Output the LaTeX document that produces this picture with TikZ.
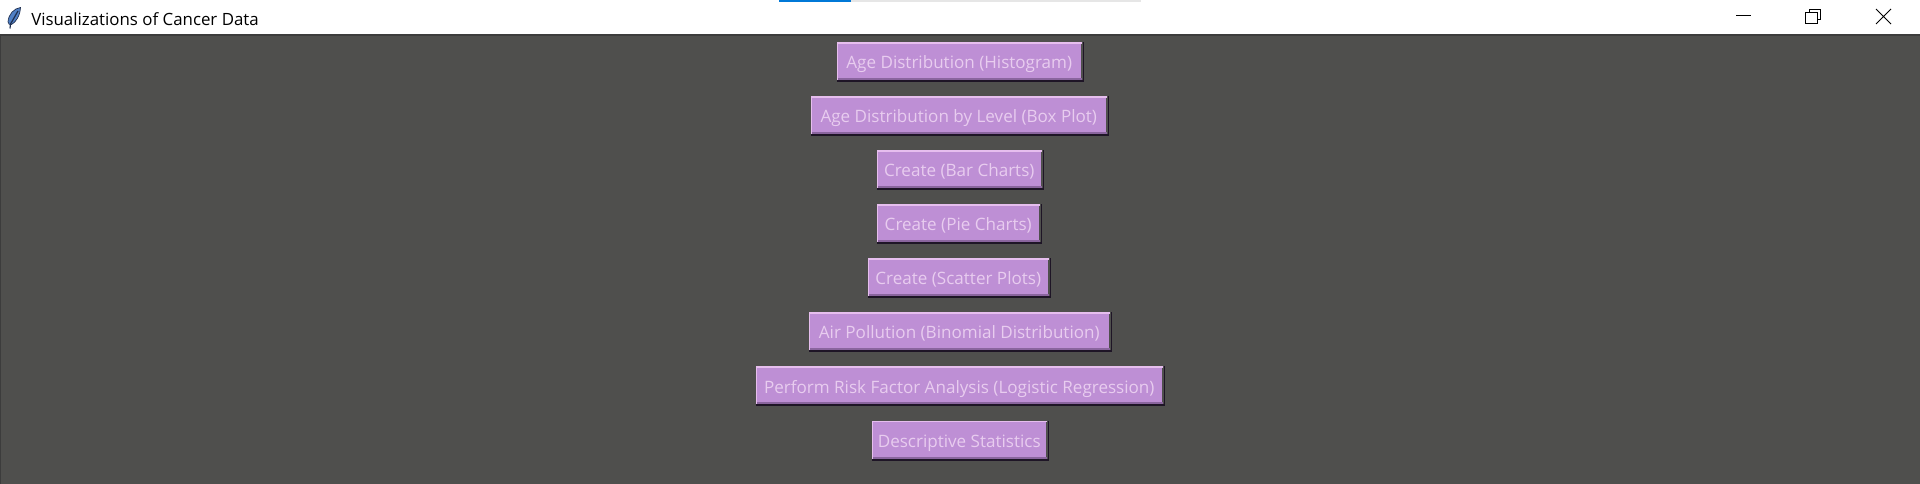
\documentclass[tikz,border=0pt]{standalone}
\usepackage{fontspec}
\setmainfont{Open Sans}
\definecolor{bg}{HTML}{4F4F4D}
\definecolor{btnfill}{HTML}{BE8FD5}
\definecolor{btntext}{HTML}{E8CCEF}
\definecolor{btnlight}{HTML}{E6BEEE}
\definecolor{btndark}{HTML}{1E1526}
\definecolor{btnmid}{HTML}{8A659E}
\definecolor{barblue}{HTML}{0078D7}
\definecolor{bargrey}{HTML}{E6E6E6}
\definecolor{edge}{HTML}{3C3C3C}
\definecolor{quill}{HTML}{4F7FC4}
\definecolor{quilldark}{HTML}{1F2F4F}
\tikzset{
  x=0.75pt,y=-0.75pt,
  btnbox/.style={fill=btnfill,draw=none,inner sep=0pt,anchor=north west,text=btntext,
    text height=12pt,text depth=0pt,
    font=\fontsize{12.8pt}{14pt}\selectfont},
  titletext/.style={inner sep=0pt,anchor=west,text=black,font=\fontsize{12.65pt}{15pt}\selectfont},
  winicon/.style={draw=black,line width=0.75pt}
}
\newcommand{\mybtn}[6]{% name,x0,x1,y0,y1,text
  \pgfmathsetmacro{\bw}{(#3-#2)*0.75}\pgfmathsetmacro{\bh}{(#5-#4)*0.75}
  \node[btnbox,minimum width=\bw pt,minimum height=\bh pt] (#1) at (#2,#4) {#6};
  \fill[btndark] (#1.north east) ++(0.75pt,0) rectangle ([shift={(1.5pt,-1.5pt)}]#1.south east);
  \fill[btndark] ([shift={(0pt,0pt)}]#1.south west) rectangle ([shift={(1.5pt,-1.5pt)}]#1.south east);
  \fill[btnmid] ([shift={(0.75pt,1.5pt)}]#1.south west) rectangle ([shift={(0pt,0pt)}]#1.south east);
  \fill[btnlight] (#1.north west) rectangle ([shift={(0pt,-1.3pt)}]#1.north east);
  \fill[btnlight] (#1.north west) rectangle ([shift={(1.1pt,0pt)}]#1.south west);
}
\begin{document}
\begin{tikzpicture}
\useasboundingbox (0,0) rectangle (1920,484);
\fill[white] (0,0) rectangle (1920,484);
\fill[bg] (0,35) rectangle (1920,484);
\fill[edge] (0,34.5) rectangle (1920,36);
\fill[edge] (0,35) rectangle (1,484);
\fill[bargrey] (851,0) rectangle (1141,2);
\fill[barblue] (779,0) rectangle (851,2);
% quill icon
\fill[quill,draw=quilldark,line width=0.5pt] (20.5,7.5) .. controls (14,8.5) and (8.5,14) .. (8,22) .. controls (8,24.5) and (10,25) .. (11.5,24.5)
  .. controls (16,22) and (20,16) .. (20.5,7.5) -- cycle;
\draw[quilldark,line width=0.9pt] (10,28.5) -- (10.5,24) (10.5,24) .. controls (13,20) and (15,16) .. (18,11);
\node[titletext] (title) at (31,19) {Visualizations of Cancer Data};
% window controls
\draw[winicon] (1736,16) -- (1751,16);
\draw[winicon] (1805.5,12.5) rectangle (1817.5,23.5);
\draw[winicon] (1809,12.5) -- (1809,9.5) -- (1820,9.5) -- (1820,20) -- (1817.5,20);
\draw[winicon] (1876,9) -- (1891,24) (1891,9) -- (1876,24);
% buttons
\mybtn{b1}{837}{1081}{42}{79}{Age Distribution (Histogram)}
\mybtn{b2}{811}{1106}{96}{133}{Age Distribution by Level (Box Plot)}
\mybtn{b3}{877}{1041}{150}{187}{Create (Bar Charts)}
\mybtn{b4}{877}{1039}{204}{241}{Create (Pie Charts)}
\mybtn{b5}{868}{1048}{258}{295}{Create (Scatter Plots)}
\mybtn{b6}{809}{1109}{312}{349}{Air Pollution (Binomial Distribution)}
\mybtn{b7}{756}{1162}{366.5}{403.5}{Perform Risk Factor Analysis (Logistic Regression)}
\mybtn{b8}{872}{1046}{420.5}{458}{Descriptive Statistics}
\end{tikzpicture}
\end{document}
